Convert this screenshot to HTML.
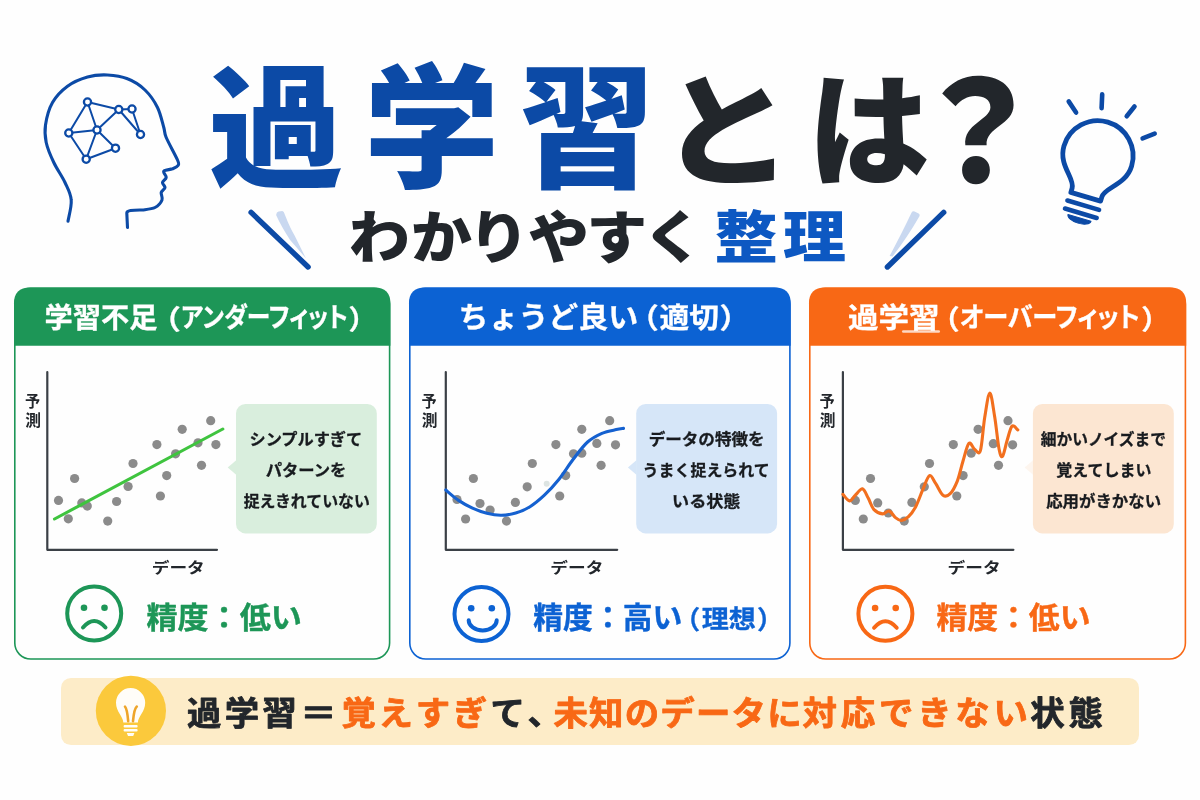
<!DOCTYPE html><html lang="ja"><head><meta charset="utf-8"><title>過学習とは？</title>
<style>html,body{margin:0;padding:0;background:#fefefe;}body{width:1200px;height:800px;overflow:hidden;font-family:"Liberation Sans", "Noto Sans CJK JP", sans-serif;}svg{display:block;}svg text{font-family:"Liberation Sans", "Noto Sans CJK JP", sans-serif;}</style></head><body>
<svg width="1200" height="800" viewBox="0 0 1200 800">
<rect width="1200" height="800" fill="#fefefe"/>
<g id="head" fill="none" stroke="#0c4aa6" stroke-linecap="round" stroke-linejoin="round">
<path d="M68.0 221.2 C68.5 217.7 71.8 206.5 71.2 200.0 C70.8 193.5 67.9 188.8 65.0 182.5 C62.1 176.2 56.9 169.2 53.8 162.5 C50.6 155.8 47.6 148.8 46.2 142.5 C44.9 136.2 44.5 131.7 45.5 125.0 C46.5 118.3 48.8 109.0 52.5 102.5 C56.2 96.0 61.7 90.5 67.5 86.2 C73.3 82.0 80.8 78.9 87.5 77.0 C94.2 75.1 100.8 74.7 107.5 75.0 C114.2 75.3 121.2 76.2 127.5 78.8 C133.8 81.2 140.0 85.2 145.0 90.0 C150.0 94.8 154.4 101.2 157.5 107.5 C160.6 113.8 162.3 122.5 163.8 127.5 C165.2 132.5 164.0 132.1 166.2 137.5 C168.5 142.9 175.5 155.3 177.5 160.0 C179.5 164.7 178.8 164.0 178.0 165.5 C177.2 167.0 174.9 167.8 172.5 168.8 C170.1 169.7 164.8 169.8 163.8 171.2 C162.7 172.7 166.5 175.6 166.2 177.5 C166.0 179.4 162.7 180.8 162.5 182.5 C162.3 184.2 165.2 185.8 165.0 187.5 C164.8 189.2 161.8 190.4 161.2 192.5 C160.8 194.6 163.0 197.5 162.0 200.0 C161.0 202.5 158.2 205.8 155.0 207.5 C151.8 209.2 144.6 209.6 142.5 210.0 Q126.5 209.7 126.8 213.0 L127.5 227.5" stroke-width="3.1"/>
<line x1="87.5" y1="102.0" x2="118.8" y2="109.5" stroke-width="2"/>
<line x1="118.8" y1="109.5" x2="132.0" y2="109.0" stroke-width="2"/>
<line x1="87.5" y1="102.0" x2="97.0" y2="130.0" stroke-width="2"/>
<line x1="87.5" y1="102.0" x2="68.8" y2="133.0" stroke-width="2"/>
<line x1="68.8" y1="133.0" x2="97.0" y2="130.0" stroke-width="2"/>
<line x1="97.0" y1="130.0" x2="118.8" y2="109.5" stroke-width="2"/>
<line x1="97.0" y1="130.0" x2="115.5" y2="148.2" stroke-width="2"/>
<line x1="97.0" y1="130.0" x2="86.2" y2="159.2" stroke-width="2"/>
<line x1="68.8" y1="133.0" x2="86.2" y2="159.2" stroke-width="2"/>
<line x1="86.2" y1="159.2" x2="115.5" y2="148.2" stroke-width="2"/>
<line x1="118.8" y1="109.5" x2="140.5" y2="134.5" stroke-width="2"/>
<line x1="132.0" y1="109.0" x2="140.5" y2="134.5" stroke-width="2"/>
<circle cx="87.5" cy="102.0" r="3.6" fill="#fff" stroke-width="2.3"/>
<circle cx="118.8" cy="109.5" r="3.6" fill="#fff" stroke-width="2.3"/>
<circle cx="132.0" cy="109.0" r="3.6" fill="#fff" stroke-width="2.3"/>
<circle cx="68.8" cy="133.0" r="3.6" fill="#fff" stroke-width="2.3"/>
<circle cx="97.0" cy="130.0" r="3.6" fill="#fff" stroke-width="2.3"/>
<circle cx="140.5" cy="134.5" r="3.6" fill="#fff" stroke-width="2.3"/>
<circle cx="115.5" cy="148.2" r="3.6" fill="#fff" stroke-width="2.3"/>
<circle cx="86.2" cy="159.2" r="3.6" fill="#fff" stroke-width="2.3"/>
</g>
<g id="title">
<text transform="translate(208.50 177.40) scale(1.009 1)" font-size="134.00" font-weight="900" fill="#0c4aa6" text-anchor="start" letter-spacing="20.00" >過学習</text>
<text transform="translate(660.03 175.95) scale(1.088 1)" font-size="122.53" font-weight="900" fill="#22262b" text-anchor="start" letter-spacing="0.00" >と</text>
<text transform="translate(807.53 175.87) scale(0.986 1)" font-size="123.88" font-weight="900" fill="#22262b" text-anchor="start" letter-spacing="0.00" >は</text>
<text transform="translate(909.16 181.90) scale(0.971 1)" font-size="140.26" font-weight="900" fill="#22262b" text-anchor="start" letter-spacing="0.00" >？</text>
</g>
<g id="subtitle">
<text transform="translate(0 258.30) scale(1.070 1)" x="326.0 384.1 437.6 493.4 548.0 600.6" font-size="57.00" font-weight="900" fill="#22262b">わかりやすく</text>
<text transform="translate(714.40 257.17) scale(1.132 1)" font-size="55.89" font-weight="900" fill="#0d58c2" text-anchor="start" letter-spacing="4.47" >整理</text>
</g>
<g id="slashes">
<path d="M276.1 215 Q276.5 212 278.6 211.6 L282.3 211 Q284 211.2 284.8 214.5 Q290 228 294.6 235.5 L305.9 258.3 L290.1 240 Q281 226 276.1 215 Z" fill="#c9d8f0"/>
<line x1="251.1" y1="212.4" x2="308.1" y2="267" stroke="#0c4aa6" stroke-width="5.4" stroke-linecap="round"/>
<path d="M911.6 212.6 Q912.6 210.6 914.6 211.4 L918.6 213.6 Q920.3 214.8 919.3 216.6 Q907 238 892.6 256.4 L889.6 256 Q902 233 911.6 212.6 Z" fill="#c9d8f0"/>
<line x1="943.7" y1="212.4" x2="887.4" y2="267" stroke="#0c4aa6" stroke-width="5.4" stroke-linecap="round"/>
</g>
<g id="bulb" fill="none" stroke="#0c4aa6" stroke-linecap="round" stroke-linejoin="round">
<g transform="translate(1097.8 156) rotate(16.5)">
<path d="M-15.5 42.5 L-15.5 38 C-15.5 28 -35.3 20 -35.3 0 A35.3 35.3 0 1 1 35.3 0 C35.3 20 15.5 28 15.5 38 L15.5 42.5 Z" stroke-width="4.8"/>
<line x1="-16.5" y1="51.3" x2="16.5" y2="51.3" stroke-width="4.6"/>
<line x1="-16.5" y1="59.7" x2="16.5" y2="59.7" stroke-width="4.6"/>
<path d="M-12 64.5 L12 64.5 A12 5.5 0 0 1 -12 64.5 Z" fill="#0c4aa6" stroke-width="1"/>
</g>
<line x1="1068.7" y1="101.4" x2="1076.1" y2="112.5" stroke-width="4.6"/>
<line x1="1102.2" y1="94.4" x2="1101.6" y2="108.2" stroke-width="4.6"/>
<line x1="1134.5" y1="106.5" x2="1126.7" y2="116.3" stroke-width="4.6"/>
<line x1="1154.7" y1="133.7" x2="1142.6" y2="138.4" stroke-width="4.6"/>
</g>
<g id="card1"><rect x="14.80" y="288.30" width="374.80" height="370.70" rx="16" fill="#fefefe" stroke="#1d9657" stroke-width="1.6"/><path d="M14.0 345.8 L14.0 303.5 Q14.0 287.5 30.0 287.5 L374.4 287.5 Q390.4 287.5 390.4 303.5 L390.4 345.8 Z" fill="#1d9657"/><text transform="translate(44.59 327.91) scale(0.980 1)" font-size="28.85" font-weight="700" fill="#fff" text-anchor="start" letter-spacing="0.00"  stroke="#fff" stroke-width="0.30" stroke-linejoin="round">学習不足</text><text transform="translate(150.47 329.00) scale(1.124 1)" font-size="27.00" font-weight="700" fill="#fff" text-anchor="start" letter-spacing="0.00"  stroke="#fff" stroke-width="0.30" stroke-linejoin="round">（</text><text transform="translate(181.10 327.37) scale(0.880 1)" font-size="27.00" font-weight="700" fill="#fff" text-anchor="start" letter-spacing="0.00" style="font-feature-settings:&quot;palt&quot; 1"  stroke="#fff" stroke-width="0.30" stroke-linejoin="round">アンダーフィット</text><text transform="translate(348.39 329.00) scale(1.047 1)" font-size="27.00" font-weight="700" fill="#fff" text-anchor="start" letter-spacing="0.00"  stroke="#fff" stroke-width="0.30" stroke-linejoin="round">）</text><path d="M47.3 372 L47.3 549.8 L217.0 549.8" fill="none" stroke="#3b4046" stroke-width="2.2" stroke-linecap="round" stroke-linejoin="round"/><text transform="translate(25.04 406.85) scale(0.944 1)" font-size="16.07" font-weight="700" fill="#22262b" text-anchor="start" letter-spacing="0.00" >予</text><text transform="translate(25.33 426.20) scale(1.016 1)" font-size="15.53" font-weight="700" fill="#22262b" text-anchor="start" letter-spacing="0.00" >測</text><text transform="translate(151.66 573.10) scale(1.178 1)" font-size="15.05" font-weight="700" fill="#22262b" text-anchor="start" letter-spacing="0.00" >データ</text><circle cx="58.5" cy="500.4" r="4.6" fill="#8b8b8b"/><circle cx="68.3" cy="518.8" r="4.6" fill="#8b8b8b"/><circle cx="74.6" cy="478.5" r="4.6" fill="#8b8b8b"/><circle cx="81.8" cy="502.9" r="4.6" fill="#8b8b8b"/><circle cx="87.3" cy="506.1" r="4.6" fill="#8b8b8b"/><circle cx="107.7" cy="521.1" r="4.6" fill="#8b8b8b"/><circle cx="116.6" cy="501.5" r="4.6" fill="#8b8b8b"/><circle cx="128.1" cy="486.5" r="4.6" fill="#8b8b8b"/><circle cx="133.0" cy="463.5" r="4.6" fill="#8b8b8b"/><circle cx="156.9" cy="444.6" r="4.6" fill="#8b8b8b"/><circle cx="160.4" cy="496.0" r="4.6" fill="#8b8b8b"/><circle cx="166.7" cy="475.6" r="4.6" fill="#8b8b8b"/><circle cx="175.6" cy="453.8" r="4.6" fill="#8b8b8b"/><circle cx="182.2" cy="429.3" r="4.6" fill="#8b8b8b"/><circle cx="198.0" cy="442.8" r="4.6" fill="#8b8b8b"/><circle cx="201.5" cy="465.3" r="4.6" fill="#8b8b8b"/><circle cx="210.7" cy="420.7" r="4.6" fill="#8b8b8b"/><circle cx="215.9" cy="444.6" r="4.6" fill="#8b8b8b"/><line x1="54.5" y1="519" x2="222.8" y2="429" stroke="#3fc43f" stroke-width="3.1" stroke-linecap="round"/><rect x="236.0" y="404.0" width="140.8" height="129.4" rx="9.5" fill="#d9eedd"/><path d="M236.5 460 L227.7 467.5 L236.5 475 Z" fill="#d9eedd" opacity="1.00"/><text transform="translate(249.51 444.92) scale(1.011 1)" font-size="16.00" font-weight="700" fill="#181b1f" text-anchor="start" letter-spacing="0.00"  stroke="#181b1f" stroke-width="0.30" stroke-linejoin="round">シンプルすぎて</text><text transform="translate(265.65 476.08) scale(1.020 1)" font-size="16.00" font-weight="700" fill="#181b1f" text-anchor="start" letter-spacing="0.00"  stroke="#181b1f" stroke-width="0.30" stroke-linejoin="round">パターンを</text><text transform="translate(243.68 507.16) scale(0.994 1)" font-size="16.00" font-weight="700" fill="#181b1f" text-anchor="start" letter-spacing="0.00"  stroke="#181b1f" stroke-width="0.30" stroke-linejoin="round">捉えきれていない</text><g fill="none" stroke="#1d9657" stroke-linecap="round"><circle cx="94.2" cy="613.5" r="27" stroke-width="4"/><circle cx="84.0" cy="607.7" r="3.3" fill="#1d9657" stroke="none"/><circle cx="104.5" cy="607.7" r="3.3" fill="#1d9657" stroke="none"/><path d="M83.0 627.5 Q94.2 614.5 105.5 627.5" stroke-width="4"/></g><text transform="translate(146.38 628.28) scale(1.046 1)" font-size="29.74" font-weight="700" fill="#1d9657" text-anchor="start" letter-spacing="0.00"  stroke="#1d9657" stroke-width="0.40" stroke-linejoin="round">精度：低い</text></g>
<g id="card2"><rect x="409.80" y="288.30" width="380.10" height="370.70" rx="16" fill="#fefefe" stroke="#0c62d3" stroke-width="1.6"/><path d="M409.0 345.8 L409.0 303.5 Q409.0 287.5 425.0 287.5 L774.7 287.5 Q790.7 287.5 790.7 303.5 L790.7 345.8 Z" fill="#0c62d3"/><text transform="translate(458.51 328.18) scale(1.027 1)" font-size="29.16" font-weight="700" fill="#fff" text-anchor="start" letter-spacing="0.00"  stroke="#fff" stroke-width="0.30" stroke-linejoin="round">ちょうど良い</text><text transform="translate(628.80 328.60) scale(1.071 1)" font-size="28.00" font-weight="700" fill="#fff" text-anchor="start" letter-spacing="0.00"  stroke="#fff" stroke-width="0.30" stroke-linejoin="round">（</text><text transform="translate(659.41 327.78) scale(1.062 1)" font-size="28.00" font-weight="700" fill="#fff" text-anchor="start" letter-spacing="0.00"  stroke="#fff" stroke-width="0.30" stroke-linejoin="round">適切</text><text transform="translate(719.38 328.60) scale(1.084 1)" font-size="28.00" font-weight="700" fill="#fff" text-anchor="start" letter-spacing="0.00"  stroke="#fff" stroke-width="0.30" stroke-linejoin="round">）</text><path d="M445.8 372 L445.8 549.8 L617.2 549.8" fill="none" stroke="#3b4046" stroke-width="2.2" stroke-linecap="round" stroke-linejoin="round"/><text transform="translate(421.44 406.85) scale(0.944 1)" font-size="16.07" font-weight="700" fill="#22262b" text-anchor="start" letter-spacing="0.00" >予</text><text transform="translate(421.73 426.20) scale(1.016 1)" font-size="15.53" font-weight="700" fill="#22262b" text-anchor="start" letter-spacing="0.00" >測</text><text transform="translate(550.36 573.10) scale(1.178 1)" font-size="15.05" font-weight="700" fill="#22262b" text-anchor="start" letter-spacing="0.00" >データ</text><circle cx="457.0" cy="499.5" r="4.6" fill="#8b8b8b"/><circle cx="465.6" cy="519.0" r="4.6" fill="#8b8b8b"/><circle cx="473.4" cy="478.5" r="4.6" fill="#8b8b8b"/><circle cx="480.0" cy="503.5" r="4.6" fill="#8b8b8b"/><circle cx="490.1" cy="510.1" r="4.6" fill="#8b8b8b"/><circle cx="506.5" cy="521.1" r="4.6" fill="#8b8b8b"/><circle cx="515.4" cy="502.4" r="4.6" fill="#8b8b8b"/><circle cx="527.2" cy="486.8" r="4.6" fill="#8b8b8b"/><circle cx="532.3" cy="463.5" r="4.6" fill="#8b8b8b"/><circle cx="555.9" cy="444.6" r="4.6" fill="#8b8b8b"/><circle cx="559.7" cy="496.0" r="4.6" fill="#8b8b8b"/><circle cx="565.7" cy="475.6" r="4.6" fill="#8b8b8b"/><circle cx="573.5" cy="453.8" r="4.6" fill="#8b8b8b"/><circle cx="581.8" cy="429.3" r="4.6" fill="#8b8b8b"/><circle cx="581.8" cy="453.2" r="4.6" fill="#8b8b8b"/><circle cx="596.8" cy="443.4" r="4.6" fill="#8b8b8b"/><circle cx="601.1" cy="465.3" r="4.6" fill="#8b8b8b"/><circle cx="609.7" cy="420.7" r="4.6" fill="#8b8b8b"/><circle cx="615.5" cy="444.8" r="4.6" fill="#8b8b8b"/><circle cx="546.7" cy="483.7" r="3" fill="#dde4e2"/><path d="M445.8 490.0 C447.8 491.7 453.7 497.0 458.1 500.1 C462.6 503.1 467.7 505.9 472.5 508.1 C477.3 510.3 482.1 512.1 486.9 513.3 C491.7 514.5 496.5 515.4 501.3 515.3 C506.1 515.3 510.9 514.4 515.7 513.0 C520.5 511.6 525.2 509.7 530.0 506.7 C534.8 503.7 539.6 499.7 544.4 495.2 C549.2 490.6 554.0 485.3 558.8 479.4 C563.6 473.4 568.4 465.5 573.2 459.2 C578.0 453.0 582.8 446.3 587.6 442.0 C592.4 437.7 597.1 435.4 601.9 433.3 C606.7 431.3 612.7 430.4 616.3 429.6 C619.9 428.8 622.3 428.6 623.5 428.4" fill="none" stroke="#1561d0" stroke-width="3.1" stroke-linecap="round"/><rect x="636.2" y="404.0" width="140.9" height="129.4" rx="9.5" fill="#d6e6f8"/><path d="M636.7 460 L627.9 467.5 L636.7 475 Z" fill="#d6e6f8" opacity="1.00"/><text transform="translate(648.64 444.76) scale(1.037 1)" font-size="16.00" font-weight="700" fill="#181b1f" text-anchor="start" letter-spacing="0.00"  stroke="#181b1f" stroke-width="0.30" stroke-linejoin="round">データの特徴を</text><text transform="translate(642.60 475.76) scale(0.998 1)" font-size="16.00" font-weight="700" fill="#181b1f" text-anchor="start" letter-spacing="0.00"  stroke="#181b1f" stroke-width="0.30" stroke-linejoin="round">うまく捉えられて</text><text transform="translate(672.12 507.16) scale(1.067 1)" font-size="16.00" font-weight="700" fill="#181b1f" text-anchor="start" letter-spacing="0.00"  stroke="#181b1f" stroke-width="0.30" stroke-linejoin="round">いる状態</text><g fill="none" stroke="#0c62d3" stroke-linecap="round"><circle cx="481.5" cy="614.0" r="27" stroke-width="4"/><circle cx="471.2" cy="608.2" r="3.3" fill="#0c62d3" stroke="none"/><circle cx="491.8" cy="608.2" r="3.3" fill="#0c62d3" stroke="none"/><path d="M468.7 620.2 A14 10.2 0 0 0 496.7 620.2" stroke-width="4"/></g><text transform="translate(533.30 628.02) scale(1.001 1)" font-size="29.79" font-weight="700" fill="#0c62d3" text-anchor="start" letter-spacing="0.00"  stroke="#0c62d3" stroke-width="0.40" stroke-linejoin="round">精度：高い</text><text transform="translate(674.10 628.95) scale(1.028 1)" font-size="25.50" font-weight="700" fill="#0c62d3" text-anchor="start" letter-spacing="0.00"  stroke="#0c62d3" stroke-width="0.30" stroke-linejoin="round">（</text><text transform="translate(701.69 627.51) scale(1.061 1)" font-size="25.50" font-weight="700" fill="#0c62d3" text-anchor="start" letter-spacing="0.00"  stroke="#0c62d3" stroke-width="0.30" stroke-linejoin="round">理想</text><text transform="translate(757.09 628.95) scale(1.028 1)" font-size="25.50" font-weight="700" fill="#0c62d3" text-anchor="start" letter-spacing="0.00"  stroke="#0c62d3" stroke-width="0.30" stroke-linejoin="round">）</text></g>
<g id="card3"><rect x="809.80" y="288.30" width="375.60" height="370.70" rx="16" fill="#fefefe" stroke="#f86815" stroke-width="1.6"/><path d="M809.0 345.8 L809.0 303.5 Q809.0 287.5 825.0 287.5 L1170.2 287.5 Q1186.2 287.5 1186.2 303.5 L1186.2 345.8 Z" fill="#f86815"/><text transform="translate(847.98 327.91) scale(1.060 1)" font-size="28.85" font-weight="700" fill="#fff" text-anchor="start" letter-spacing="0.00"  stroke="#fff" stroke-width="0.30" stroke-linejoin="round">過学習</text><rect x="902" y="330.2" width="38" height="2.6" rx="1.3" fill="#fff" opacity="0.75"/><text transform="translate(931.11 329.00) scale(1.060 1)" font-size="27.00" font-weight="700" fill="#fff" text-anchor="start" letter-spacing="0.00"  stroke="#fff" stroke-width="0.30" stroke-linejoin="round">（</text><text transform="translate(959.74 327.10) scale(0.934 1)" font-size="27.00" font-weight="700" fill="#fff" text-anchor="start" letter-spacing="0.00" style="font-feature-settings:&quot;palt&quot; 1"  stroke="#fff" stroke-width="0.30" stroke-linejoin="round">オーバーフィット</text><text transform="translate(1141.19 329.00) scale(1.047 1)" font-size="27.00" font-weight="700" fill="#fff" text-anchor="start" letter-spacing="0.00"  stroke="#fff" stroke-width="0.30" stroke-linejoin="round">）</text><path d="M842.9 372 L842.9 549.8 L1013.4 549.8" fill="none" stroke="#3b4046" stroke-width="2.2" stroke-linecap="round" stroke-linejoin="round"/><text transform="translate(819.44 406.85) scale(0.944 1)" font-size="16.07" font-weight="700" fill="#22262b" text-anchor="start" letter-spacing="0.00" >予</text><text transform="translate(819.73 426.20) scale(1.016 1)" font-size="15.53" font-weight="700" fill="#22262b" text-anchor="start" letter-spacing="0.00" >測</text><text transform="translate(947.46 573.10) scale(1.178 1)" font-size="15.05" font-weight="700" fill="#22262b" text-anchor="start" letter-spacing="0.00" >データ</text><circle cx="855.3" cy="500.4" r="4.6" fill="#8b8b8b"/><circle cx="863.3" cy="519.0" r="4.6" fill="#8b8b8b"/><circle cx="870.5" cy="478.5" r="4.6" fill="#8b8b8b"/><circle cx="877.7" cy="502.9" r="4.6" fill="#8b8b8b"/><circle cx="888.3" cy="513.0" r="4.6" fill="#8b8b8b"/><circle cx="904.2" cy="521.1" r="4.6" fill="#8b8b8b"/><circle cx="911.9" cy="502.4" r="4.6" fill="#8b8b8b"/><circle cx="924.3" cy="486.8" r="4.6" fill="#8b8b8b"/><circle cx="929.5" cy="463.5" r="4.6" fill="#8b8b8b"/><circle cx="953.3" cy="444.6" r="4.6" fill="#8b8b8b"/><circle cx="956.8" cy="496.0" r="4.6" fill="#8b8b8b"/><circle cx="963.1" cy="475.6" r="4.6" fill="#8b8b8b"/><circle cx="971.2" cy="453.2" r="4.6" fill="#8b8b8b"/><circle cx="978.1" cy="429.3" r="4.6" fill="#8b8b8b"/><circle cx="993.3" cy="443.7" r="4.6" fill="#8b8b8b"/><circle cx="998.5" cy="465.3" r="4.6" fill="#8b8b8b"/><circle cx="1008.0" cy="420.7" r="4.6" fill="#8b8b8b"/><circle cx="1012.6" cy="444.8" r="4.6" fill="#8b8b8b"/><path d="M842.9 494.3 C844.0 495.4 847.5 500.8 849.5 500.9 C851.6 501.1 853.1 497.2 855.3 495.2 C857.4 493.2 860.3 488.4 862.5 488.8 C864.6 489.3 866.3 494.6 868.2 498.1 C870.1 501.5 871.6 506.9 874.0 509.6 C876.4 512.2 880.0 513.6 882.6 513.9 C885.1 514.1 887.0 510.4 889.2 511.0 C891.4 511.6 893.5 516.0 895.5 517.6 C897.5 519.2 899.1 520.6 901.3 520.5 C903.4 520.3 906.1 519.0 908.5 516.7 C910.9 514.4 913.3 511.2 915.7 506.7 C918.1 502.1 920.6 494.6 922.9 489.4 C925.2 484.2 927.3 476.6 929.5 475.6 C931.6 474.7 933.5 480.4 935.8 483.7 C938.0 486.9 940.6 493.5 943.0 495.2 C945.4 496.9 947.8 496.1 950.2 493.7 C952.6 491.3 955.2 486.3 957.4 480.8 C959.5 475.3 961.2 466.9 963.1 460.7 C965.0 454.4 967.0 445.3 968.9 443.4 C970.8 441.5 972.7 448.0 974.6 449.2 C976.5 450.4 978.7 455.9 980.4 450.6 C982.1 445.3 983.1 427.1 984.7 417.5 C986.3 407.9 988.2 393.1 989.9 393.1 C991.5 393.1 993.2 408.2 994.8 417.5 C996.3 426.9 997.8 442.7 999.1 449.2 C1000.4 455.6 1001.2 457.8 1002.5 456.3 C1003.9 454.9 1005.5 445.6 1007.1 440.5 C1008.7 435.5 1010.2 427.9 1012.0 426.1 C1013.8 424.4 1016.8 429.3 1017.8 429.9" fill="none" stroke="#f26f1e" stroke-width="3.1" stroke-linecap="round" stroke-linejoin="round"/><rect x="1032.9" y="404.0" width="140.9" height="129.4" rx="9.5" fill="#fce6d2"/><path d="M1033.4 460 L1024.6 467.5 L1033.4 475 Z" fill="#fce6d2" opacity="0.35"/><text transform="translate(1040.69 444.76) scale(0.984 1)" font-size="16.00" font-weight="700" fill="#181b1f" text-anchor="start" letter-spacing="0.00"  stroke="#181b1f" stroke-width="0.30" stroke-linejoin="round">細かいノイズまで</text><text transform="translate(1056.36 475.60) scale(0.999 1)" font-size="16.00" font-weight="700" fill="#181b1f" text-anchor="start" letter-spacing="0.00"  stroke="#181b1f" stroke-width="0.30" stroke-linejoin="round">覚えてしまい</text><text transform="translate(1046.17 507.00) scale(1.027 1)" font-size="16.00" font-weight="700" fill="#181b1f" text-anchor="start" letter-spacing="0.00"  stroke="#181b1f" stroke-width="0.30" stroke-linejoin="round">応用がきかない</text><g fill="none" stroke="#f86815" stroke-linecap="round"><circle cx="885.4" cy="613.8" r="27" stroke-width="4"/><circle cx="875.1" cy="608.0" r="3.3" fill="#f86815" stroke="none"/><circle cx="895.7" cy="608.0" r="3.3" fill="#f86815" stroke="none"/><path d="M874.1 627.8 Q885.4 614.8 896.7 627.8" stroke-width="4"/></g><text transform="translate(936.38 628.28) scale(1.037 1)" font-size="29.74" font-weight="700" fill="#f86815" text-anchor="start" letter-spacing="0.00"  stroke="#f86815" stroke-width="0.40" stroke-linejoin="round">精度：低い</text></g>
<g id="bottom">
<rect x="61" y="677.9" width="1078" height="67.2" rx="10" fill="#fdecc8"/>
<circle cx="130.9" cy="710.8" r="35.1" fill="#fbc93c"/>
<g transform="translate(130.6 702.7)"><path d="M-7.3 19.7 C-7.3 14 -14.6 9 -14.6 0 A14.6 14.6 0 1 1 14.6 0 C14.6 9 7.3 14 7.3 19.7 Z" fill="#fffdf8"/><rect x="-7" y="22.4" width="14" height="2.4" rx="1" fill="#fffdf8"/><rect x="-7" y="26.3" width="14" height="2.4" rx="1" fill="#fffdf8"/><path d="M-3.8 30.3 L3.8 30.3 L2.6 33.4 L-2.6 33.4 Z" fill="#fffdf8"/><path d="M-5.6 3.9 Q-3.5 6 -2.4 18.5 M6.2 3.9 Q3.6 6 2.4 18.5" stroke="#eea52a" stroke-width="2.6" fill="none" stroke-linecap="round"/></g>
<text transform="translate(187.07 724.75) scale(1.060 1)" font-size="32.50" font-weight="700" fill="#22262b" text-anchor="start" letter-spacing="2.99"  stroke="#22262b" stroke-width="0.80" stroke-linejoin="round">過学習</text>
<text transform="translate(299.97 724.75) scale(1.134 1)" font-size="32.50" font-weight="700" fill="#22262b" text-anchor="start" letter-spacing="0.00"  stroke="#22262b" stroke-width="0.80" stroke-linejoin="round">＝</text>
<text transform="translate(341.42 724.75) scale(1.060 1)" font-size="32.50" font-weight="700" fill="#f86815" text-anchor="start" letter-spacing="2.56"  stroke="#f86815" stroke-width="0.80" stroke-linejoin="round">覚えすぎ</text>
<text transform="translate(490.39 724.75) scale(1.060 1)" font-size="32.50" font-weight="700" fill="#22262b" text-anchor="start" letter-spacing="4.23"  stroke="#22262b" stroke-width="0.80" stroke-linejoin="round">て、</text>
<text transform="translate(553.41 724.75) scale(1.060 1)" font-size="32.50" font-weight="700" fill="#f86815" text-anchor="start" letter-spacing="1.14"  stroke="#f86815" stroke-width="0.80" stroke-linejoin="round">未知のデータに</text>
<text transform="translate(802.61 724.75) scale(1.060 1)" font-size="32.50" font-weight="700" fill="#f86815" text-anchor="start" letter-spacing="3.54"  stroke="#f86815" stroke-width="0.80" stroke-linejoin="round">対応できない</text>
<text transform="translate(1030.27 724.75) scale(1.060 1)" font-size="32.50" font-weight="700" fill="#22262b" text-anchor="start" letter-spacing="3.65"  stroke="#22262b" stroke-width="0.80" stroke-linejoin="round">状態</text>
</g>
</svg></body></html>
